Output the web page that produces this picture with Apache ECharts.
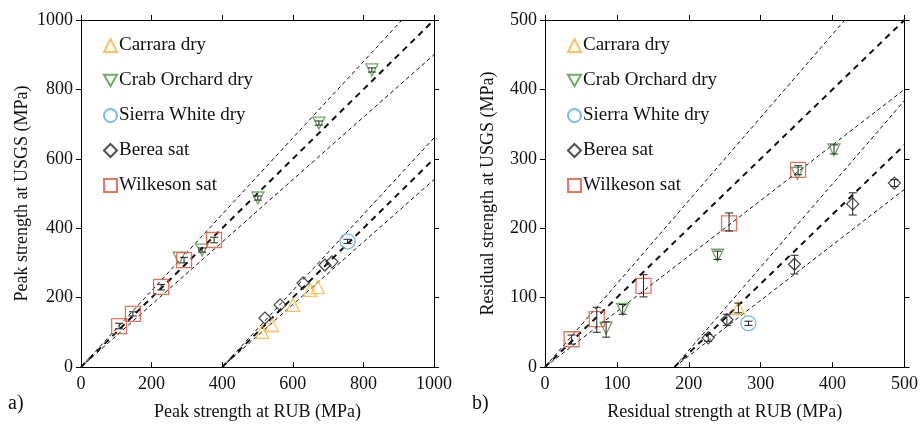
<!DOCTYPE html>
<html>
<head>
<meta charset="utf-8">
<script src="https://cdn.jsdelivr.net/npm/echarts@6/dist/echarts.min.js"></script>
<style>
  body { margin: 0; background: #fff; }
  #chart { width: 921px; height: 428px; }
</style>
</head>
<body>
<div id="chart"></div>
<script>
// names of the rock types
const names = ['Carrara dry', 'Crab Orchard dry', 'Sierra White dry', 'Berea sat', 'Wilkeson sat'];

// a) peak strength: [RUB, USGS]
const peakCarrara = [[513, 101], [541, 121], [601, 179], [649, 222], [671, 230]];
const peakCrab = [[278, 314], [343, 337], [501, 487], [674, 703], [824, 856]];
const peakSierra = [[755, 362]];
const peakBerea = [[521, 141], [564, 179], [629, 242], [691, 294], [711, 303]];
const peakWilkeson = [[108, 118], [147, 153], [227, 231], [292, 308], [377, 366]];
// error bars [x, low, high]
const peakErr = [[108, 110, 126], [147, 147, 159], [227, 222, 238], [292, 300, 316], [377, 358, 374],
  [674, 697, 709], [824, 850, 862], [755, 356, 368], [343, 331, 343], [501, 481, 493]];

// b) residual strength
const resCarrara = [[269, 85]];
const resCrab = [[85, 56], [108, 83], [240, 161], [351, 279], [402, 313]];
const resSierra = [[283, 63]];
const resBerea = [[227, 42], [253, 68], [347, 148], [428, 235], [486, 265]];
const resWilkeson = [[37, 40], [72, 69], [137, 117], [256, 207], [352, 284]];
const resErr = [[72, 50, 86], [137, 101, 133], [256, 196, 222], [352, 277, 290], [37, 33, 46],
  [85, 43, 65], [108, 76, 90], [240, 155, 167], [402, 307, 320],
  [347, 134, 161], [428, 219, 251], [486, 260, 270], [253, 60, 76], [227, 37, 47],
  [269, 78, 92], [283, 60, 66]];

// reference lines (thin, thick, thin) as end points
const peakLinesThin = [[[0, 0], [909, 1000]], [[0, 0], [1000, 900]], [[400, 0], [1000, 660]], [[400, 0], [1000, 540]]];
const peakLinesThick = [[[0, 0], [1000, 1000]], [[400, 0], [1000, 600]]];
const resLinesThin = [[[0, 0], [417, 500]], [[0, 0], [500, 400]], [[180, 0], [500, 384]], [[180, 0], [500, 256]]];
const resLinesThick = [[[0, 0], [500, 500]], [[180, 0], [500, 320]]];

const downTri = 'path://M0,0 L12,0 L6,10.4 Z';
const colors = ['#F7B43A', '#4E9445', '#5AA9E0', '#222222', '#E0533A'];
const symbols = ['triangle', downTri, 'circle', 'diamond', 'rect'];
const sizes = [13, 12, 15, 12, 15];
const font = '"Liberation Serif", "Times New Roman", serif';

const chart = echarts.init(document.getElementById('chart'));

function axisPair(gi, max, interval, xName, yName, yGap) {
  const common = {
    gridIndex: gi, min: 0, max: max, interval: interval,
    axisLine: { onZero: false, lineStyle: { color: '#000', width: 1 } },
    splitLine: { show: false }
  };
  const x = [
    Object.assign({}, common, {
      type: 'value', position: 'bottom', name: xName, nameLocation: 'middle', nameGap: 36,
      nameTextStyle: { fontFamily: font, fontSize: 18, color: '#111' },
      axisTick: { inside: true, length: 5, lineStyle: { color: '#000' } },
      axisLabel: { fontFamily: font, fontSize: 18, color: '#111', margin: 8, formatter: v => String(v) }
    }),
    Object.assign({}, common, {
      type: 'value', position: 'top',
      axisTick: { inside: false, length: 5, lineStyle: { color: '#000' } },
      axisLabel: { show: false }
    })
  ];
  const y = [
    Object.assign({}, common, {
      type: 'value', position: 'left', name: yName, nameLocation: 'middle', nameGap: yGap,
      nameTextStyle: { fontFamily: font, fontSize: 18, color: '#111' },
      axisTick: { inside: false, length: 5, lineStyle: { color: '#000' } },
      axisLabel: { fontFamily: font, fontSize: 18, color: '#111', margin: 8, formatter: v => String(v) }
    }),
    Object.assign({}, common, {
      type: 'value', position: 'right',
      axisTick: { inside: false, length: 5, lineStyle: { color: '#000' } },
      axisLabel: { show: false }
    })
  ];
  return { x, y };
}

const a = axisPair(0, 1000, 200, 'Peak strength at RUB (MPa)', 'Peak strength at USGS (MPa)', 50);
const b = axisPair(1, 500, 100, 'Residual strength at RUB (MPa)', 'Residual strength at USGS (MPa)', 48);

function refLines(list, axisIdx, width, dash) {
  return list.map(seg => ({
    type: 'line', xAxisIndex: axisIdx, yAxisIndex: axisIdx, data: seg,
    symbol: 'none', silent: true, z: 1,
    lineStyle: { color: '#111', width: width, type: dash }
  }));
}

function scatter(i, data, axisIdx) {
  return {
    type: 'scatter', name: names[i], xAxisIndex: axisIdx, yAxisIndex: axisIdx, data: data,
    symbol: symbols[i], symbolSize: sizes[i], z: 3,
    itemStyle: { color: 'rgba(255,255,255,0)', borderColor: colors[i], borderWidth: 1.3 }
  };
}

function errorBars(data, axisIdx) {
  return {
    type: 'custom', xAxisIndex: axisIdx, yAxisIndex: axisIdx, data: data, z: 4, silent: true,
    renderItem: function (params, api) {
      const lo = api.coord([api.value(0), api.value(1)]);
      const hi = api.coord([api.value(0), api.value(2)]);
      const style = { stroke: '#222', lineWidth: 1 };
      return {
        type: 'group', children: [
          { type: 'line', shape: { x1: lo[0], y1: lo[1], x2: hi[0], y2: hi[1] }, style: style },
          { type: 'line', shape: { x1: lo[0] - 4, y1: lo[1], x2: lo[0] + 4, y2: lo[1] }, style: style },
          { type: 'line', shape: { x1: hi[0] - 4, y1: hi[1], x2: hi[0] + 4, y2: hi[1] }, style: style }
        ]
      };
    },
    encode: { x: 0, y: [1, 2] }
  };
}

const peakSets = [peakCarrara, peakCrab, peakSierra, peakBerea, peakWilkeson];
const resSets = [resCarrara, resCrab, resSierra, resBerea, resWilkeson];

const series = []
  .concat(refLines(peakLinesThin, 0, 1, [4, 3]))
  .concat(refLines(peakLinesThick, 0, 2, [6, 5]))
  .concat(refLines(resLinesThin, 2, 1, [4, 3]))
  .concat(refLines(resLinesThick, 2, 2, [6, 5]))
  .concat(peakSets.map((d, i) => scatter(i, d, 0)))
  .concat(resSets.map((d, i) => scatter(i, d, 2)))
  .concat([errorBars(peakErr, 0), errorBars(resErr, 2)]);

function legend(left) {
  return {
    data: names, orient: 'vertical', left: left, top: 31,
    itemWidth: 13, itemHeight: 13, itemGap: 16,
    textStyle: { fontFamily: font, fontSize: 19, color: '#111', padding: [0, 0, 0, -3] },
    selectedMode: false
  };
}

chart.setOption({
  backgroundColor: '#fff',
  animation: false,
  grid: [
    { left: 81, top: 20, width: 353, height: 347 },
    { left: 545, top: 20, width: 360, height: 347 }
  ],
  // indices: 0 bottom a, 1 top a, 2 bottom b, 3 top b
  xAxis: [a.x[0], a.x[1], b.x[0], b.x[1]],
  yAxis: [a.y[0], a.y[1], b.y[0], b.y[1]],
  legend: [legend(98), legend(562)],
  graphic: [
    { type: 'text', left: 8, top: 394, style: { text: 'a)', font: '20px "Liberation Serif"', fill: '#111' } },
    { type: 'text', left: 472, top: 394, style: { text: 'b)', font: '20px "Liberation Serif"', fill: '#111' } }
  ],
  series: series
});
</script>
</body>
</html>
